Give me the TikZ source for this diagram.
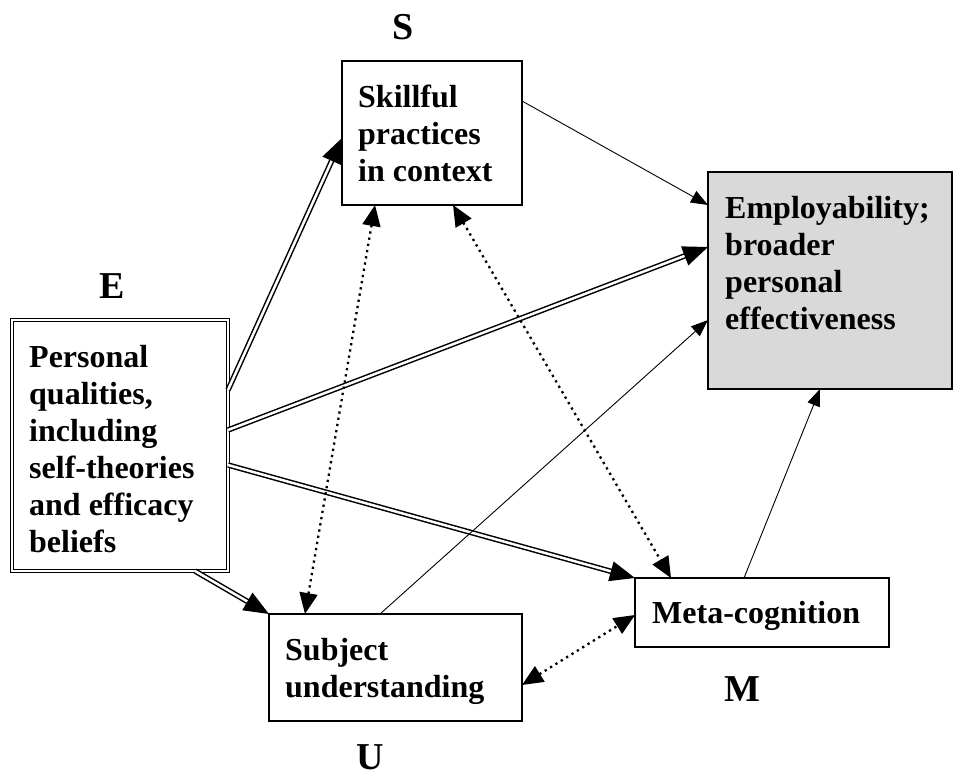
\documentclass[tikz,border=0pt]{standalone}
\usepackage{fontspec}
\setmainfont{Liberation Serif}
\usetikzlibrary{arrows.meta,calc,positioning}

\begin{document}
\begin{tikzpicture}[x=1pt, y=-1pt,
	bx/.style={draw, rectangle, line width=2pt, inner sep=0pt, outer sep=0pt},
	txt/.style={anchor=north west, inner sep=0pt, align=left,
		font=\fontsize{32}{37}\selectfont\bfseries},
	lbl/.style={anchor=base, inner sep=0pt, font=\fontsize{38}{40}\selectfont\bfseries},
	dbl/.style={line width=1.5pt, double, double distance=2.5pt,
		-{Triangle[length=25pt,width=20pt]}},
	thn/.style={line width=0.9pt, -{Triangle[length=17pt,width=13pt]}},
	dts/.style={line width=2.3pt, dash pattern=on 2.3pt off 4pt,
		{Triangle[length=21pt,width=18pt]}-{Triangle[length=21pt,width=18pt]}}]
	\useasboundingbox (0,0) rectangle (955,778);
	\node[bx, line width=1.3pt, double, double distance=2pt,
		minimum width=216pt, minimum height=251pt] (E) at (120,445.5) {};
	\node[bx, minimum width=180pt, minimum height=144pt] (S) at (432,133) {};
	\node[bx, line width=2.5pt, fill=gray!30,
		minimum width=244pt, minimum height=217pt] (Emp) at (830,280.5) {};
	\node[bx, minimum width=254pt, minimum height=69pt] (Meta) at (762,612.5) {};
	\node[bx, minimum width=253pt, minimum height=107pt] (Subj) at (395.5,667.5) {};
	\node[txt] (Etxt) at (29,345) {Personal\\qualities,\\including\\self-theories\\and efficacy\\beliefs};
	\node[txt] (Stxt) at (358,85) {Skillful\\practices\\in context};
	\node[txt] (Emptxt) at (725,196) {Employability;\\broader\\personal\\effectiveness};
	\node[txt] (Metatxt) at (652,601) {Meta-cognition};
	\node[txt] (Subjtxt) at (285,638) {Subject\\understanding};
	\node[lbl] (El) at (112,298) {E};
	\node[lbl] (Sl) at (403,40) {S};
	\node[lbl] (Ml) at (742,701) {M};
	\node[lbl] (Ul) at (370,769) {U};
	\draw[dbl] ($(E.north east)+(0,70)$) to ($(S.north west)+(0,77)$);
	\draw[dbl] ($(E.north east)+(0,110)$) to ($(Emp.north west)+(0,75)$);
	\draw[dbl] ($(E.north east)+(0,145)$) to (Meta.north west);
	\draw[dbl] ($(E.south west)+(183,0)$) to (Subj.north west);
	\draw[thn] ($(S.north east)+(0,40)$) to ($(Emp.north west)+(0,33)$);
	\draw[thn] ($(Subj.north west)+(111,0)$) to ($(Emp.north west)+(0,148)$);
	\draw[thn] ($(Meta.north west)+(109,0)$) to ($(Emp.south west)+(112,0)$);
	\draw[dts] ($(S.south west)+(33,0)$) to ($(Subj.north west)+(36,0)$);
	\draw[dts] ($(S.south west)+(111,0)$) to ($(Meta.north west)+(36,0)$);
	\draw[dts] ($(Subj.north east)+(0,71)$) to ($(Meta.north west)+(0,37)$);
\end{tikzpicture}
\end{document}
